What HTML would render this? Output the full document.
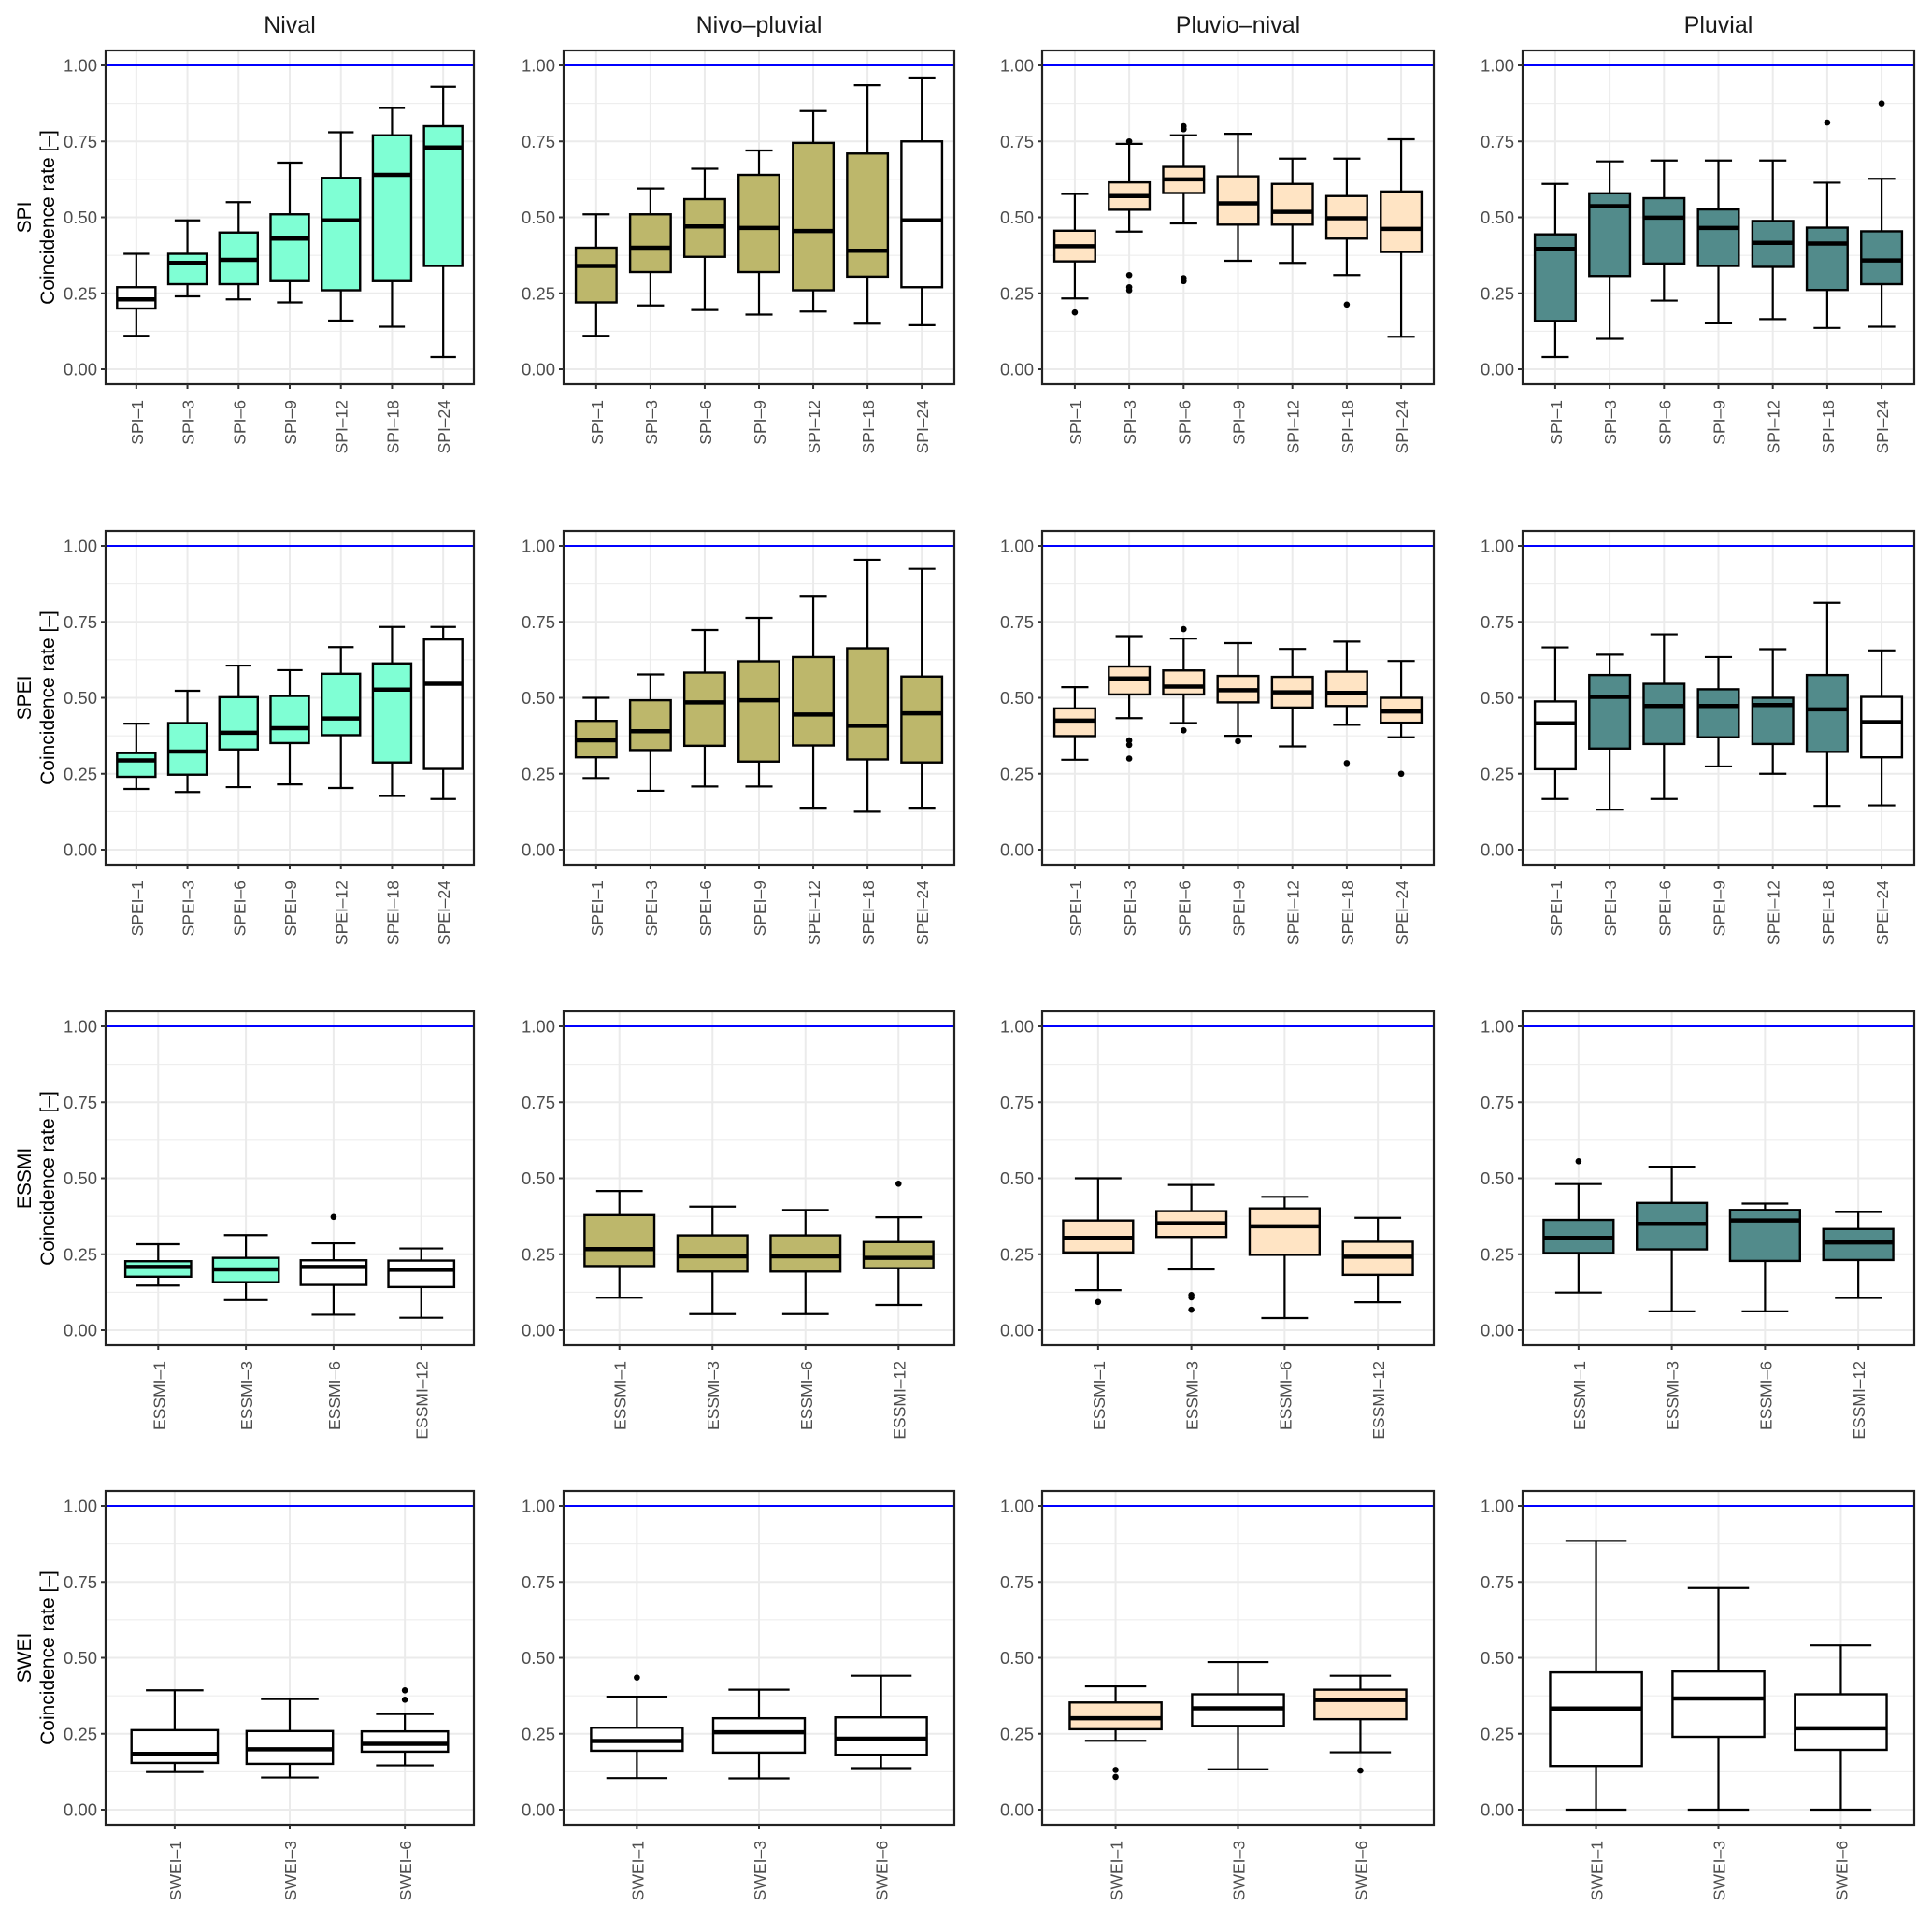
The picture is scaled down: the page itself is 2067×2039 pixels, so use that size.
<!DOCTYPE html>
<html><head><meta charset="utf-8"><style>
html,body{margin:0;padding:0;background:#fff;}
svg{display:block;font-family:"Liberation Sans",Arial,sans-serif;}
</style></head><body>
<svg id="chart" width="2067" height="2039" viewBox="0 0 2067 2039" xmlns="http://www.w3.org/2000/svg"></svg>
<script>
// ---- data ----
const regimes = ["Nival","Nivo\u2013pluvial","Pluvio\u2013nival","Pluvial"];
const indices = ["SPI","SPEI","ESSMI","SWEI"];
const catsSPI = ["SPI\u20131","SPI\u20133","SPI\u20136","SPI\u20139","SPI\u201312","SPI\u201318","SPI\u201324"];
const catsSPEI = ["SPEI\u20131","SPEI\u20133","SPEI\u20136","SPEI\u20139","SPEI\u201312","SPEI\u201318","SPEI\u201324"];
const catsESSMI = ["ESSMI\u20131","ESSMI\u20133","ESSMI\u20136","ESSMI\u201312"];
const catsSWEI = ["SWEI\u20131","SWEI\u20133","SWEI\u20136"];
const regimeFills = ["#7FFFD4","#BDB76B","#FFE4C4","#528B8B"];
const yTicks = [0,0.25,0.5,0.75,1];
const yTickLabels = ["0.00","0.25","0.50","0.75","1.00"];

// stats: [lower whisker, q1, median, q3, upper whisker]
const spiNival = [[.11,.20,.23,.27,.38],[.24,.28,.35,.38,.49],[.23,.28,.36,.45,.55],[.22,.29,.43,.51,.68],[.16,.26,.49,.63,.78],[.14,.29,.64,.77,.86],[.04,.34,.73,.80,.93]];
const spiNivo = [[.11,.22,.34,.40,.51],[.21,.32,.40,.51,.595],[.195,.37,.47,.56,.66],[.18,.32,.465,.64,.72],[.19,.26,.455,.745,.85],[.15,.305,.39,.71,.935],[.145,.27,.49,.75,.96]];
const spiPluvio = [[.233,.355,.405,.456,.577],[.453,.525,.57,.615,.742],[.48,.58,.625,.666,.77],[.357,.476,.546,.635,.775],[.35,.476,.518,.61,.693],[.31,.43,.497,.57,.693],[.107,.386,.462,.585,.757]];
const spiPluvial = [[.04,.159,.396,.444,.61],[.10,.307,.537,.579,.684],[.226,.348,.499,.563,.687],[.151,.34,.465,.526,.687],[.165,.337,.416,.488,.687],[.136,.261,.414,.466,.614],[.14,.28,.358,.454,.627]];
const speiNival = [[.20,.24,.294,.318,.415],[.19,.247,.323,.417,.523],[.206,.33,.385,.502,.606],[.215,.351,.40,.506,.591],[.203,.377,.432,.579,.667],[.177,.287,.527,.613,.733],[.167,.266,.546,.692,.733]];
const speiNivo = [[.236,.304,.36,.424,.50],[.194,.328,.39,.492,.577],[.208,.342,.485,.583,.723],[.208,.29,.492,.62,.763],[.138,.343,.445,.634,.833],[.125,.297,.408,.663,.954],[.138,.287,.449,.57,.924]];
const speiPluvio = [[.296,.374,.425,.465,.535],[.433,.511,.564,.603,.703],[.417,.511,.537,.59,.695],[.375,.485,.525,.572,.68],[.34,.468,.518,.569,.661],[.411,.473,.516,.586,.685],[.37,.418,.455,.50,.621]];
const speiPluvial = [[.167,.265,.416,.488,.666],[.132,.333,.503,.575,.642],[.167,.348,.473,.546,.709],[.274,.37,.473,.528,.634],[.25,.348,.476,.50,.66],[.144,.322,.462,.575,.813],[.146,.304,.42,.503,.656]];
const essmiNival = [[.147,.176,.208,.227,.283],[.099,.158,.20,.238,.313],[.051,.149,.208,.23,.286],[.041,.142,.199,.229,.269]];
const essmiNivo = [[.107,.211,.267,.379,.458],[.053,.193,.243,.312,.407],[.053,.193,.243,.312,.396],[.083,.204,.238,.29,.372]];
const essmiPluvio = [[.132,.256,.304,.361,.50],[.20,.307,.352,.392,.478],[.04,.248,.342,.401,.439],[.092,.182,.242,.291,.37]];
const essmiPluvial = [[.124,.254,.304,.363,.481],[.062,.266,.35,.419,.538],[.062,.228,.361,.396,.417],[.106,.231,.289,.333,.389]];
const sweiNival = [[.124,.154,.184,.262,.393],[.106,.151,.199,.259,.364],[.146,.191,.217,.258,.315]];
const sweiNivo = [[.104,.194,.226,.27,.372],[.103,.188,.255,.301,.395],[.137,.181,.234,.304,.441]];
const sweiPluvio = [[.227,.265,.301,.353,.406],[.133,.276,.334,.38,.486],[.189,.298,.361,.395,.441]];
const sweiPluvial = [[0,.144,.333,.452,.885],[0,.24,.366,.455,.73],[0,.197,.268,.38,.541]];

// outliers per box
const spiNivalOut = [[],[],[],[],[],[],[]];
const spiNivoOut = [[],[],[],[],[],[],[]];
const spiPluvioOut = [[.187],[.75,.31,.27,.26],[.80,.79,.30,.29],[],[],[.213],[]];
const spiPluvialOut = [[],[],[],[],[],[.812],[.875]];
const speiNivalOut = [[],[],[],[],[],[],[]];
const speiNivoOut = [[],[],[],[],[],[],[]];
const speiPluvioOut = [[],[.36,.345,.30],[.726,.393],[.357],[],[.285],[.25]];
const speiPluvialOut = [[],[],[],[],[],[],[]];
const essmiNivalOut = [[],[],[.373],[]];
const essmiNivoOut = [[],[],[],[.482]];
const essmiPluvioOut = [[.093],[.116,.108,.067],[],[]];
const essmiPluvialOut = [[.556],[],[],[]];
const sweiNivalOut = [[],[],[.393,.362]];
const sweiNivoOut = [[.435],[],[]];
const sweiPluvioOut = [[.131,.108],[],[.129]];
const sweiPluvialOut = [[],[],[]];

// 1 = white (unfilled) box, 0 = regime colour
const spiNivalWhite = [1,0,0,0,0,0,0];
const spiNivoWhite = [0,0,0,0,0,0,1];
const spiPluvioWhite = [0,0,0,0,0,0,0];
const spiPluvialWhite = [0,0,0,0,0,0,0];
const speiNivalWhite = [0,0,0,0,0,0,1];
const speiNivoWhite = [0,0,0,0,0,0,0];
const speiPluvioWhite = [0,0,0,0,0,0,0];
const speiPluvialWhite = [1,0,0,0,0,0,1];
const essmiNivalWhite = [0,0,1,1];
const essmiNivoWhite = [0,0,0,0];
const essmiPluvioWhite = [0,0,0,0];
const essmiPluvialWhite = [0,0,0,0];
const sweiNivalWhite = [1,1,1];
const sweiNivoWhite = [1,1,1];
const sweiPluvioWhite = [0,1,0];
const sweiPluvialWhite = [1,1,1];

const rowCats = [catsSPI, catsSPEI, catsESSMI, catsSWEI];
const panelStats = [[spiNival,spiNivo,spiPluvio,spiPluvial],[speiNival,speiNivo,speiPluvio,speiPluvial],[essmiNival,essmiNivo,essmiPluvio,essmiPluvial],[sweiNival,sweiNivo,sweiPluvio,sweiPluvial]];
const panelOut = [[spiNivalOut,spiNivoOut,spiPluvioOut,spiPluvialOut],[speiNivalOut,speiNivoOut,speiPluvioOut,speiPluvialOut],[essmiNivalOut,essmiNivoOut,essmiPluvioOut,essmiPluvialOut],[sweiNivalOut,sweiNivoOut,sweiPluvioOut,sweiPluvialOut]];
const panelWhite = [[spiNivalWhite,spiNivoWhite,spiPluvioWhite,spiPluvialWhite],[speiNivalWhite,speiNivoWhite,speiPluvioWhite,speiPluvialWhite],[essmiNivalWhite,essmiNivoWhite,essmiPluvioWhite,essmiPluvialWhite],[sweiNivalWhite,sweiNivoWhite,sweiPluvioWhite,sweiPluvialWhite]];

// ---- layout ----
const colL = [113,603,1115,1629], colR = [507,1021,1534,2048];
const rowT = [54,568,1082,1595];
const PH = 357;
const NS = "http://www.w3.org/2000/svg";
const svg = document.getElementById('chart');
function mk(tag, attrs, parent){const e=document.createElementNS(NS,tag);for(const k in attrs)e.setAttribute(k,attrs[k]);(parent||svg).appendChild(e);return e;}

for(let r=0;r<4;r++){
  for(let c=0;c<4;c++){
    const L=colL[c],R=colR[c],T=rowT[r],B=T+PH;
    const y0=T+341,y1=T+16;
    const yS=v=>y0-(y0-y1)*v;
    const cats=rowCats[r], n=cats.length;
    const unit=(R-L)/(n+0.2);
    const xS=i=>L+unit*(i+0.6);
    const g=mk('g',{});
    
    
    for(let k=0;k<4;k++){const v=0.125+0.25*k;mk('line',{x1:L,x2:R,y1:yS(v),y2:yS(v),stroke:'#EBEBEB','stroke-width':1},g);}
    yTicks.forEach(v=>mk('line',{x1:L,x2:R,y1:yS(v),y2:yS(v),stroke:'#EBEBEB','stroke-width':2},g));
    cats.forEach((_,i)=>mk('line',{x1:xS(i),x2:xS(i),y1:T,y2:B,stroke:'#EBEBEB','stroke-width':2},g));
    const hl=mk('line',{x1:L,x2:R,y1:yS(1),y2:yS(1),stroke:'#0000FF','stroke-width':2},g);
    
    
    const st=panelStats[r][c], outs=panelOut[r][c], wh=panelWhite[r][c];
    st.forEach((s,i)=>{
      const x=xS(i), bw=unit*0.75, cw=unit*0.5;
      const bg=mk('g',{},g);
      
      
      mk('line',{x1:x,x2:x,y1:yS(s[4]),y2:yS(s[3]),stroke:'#000','stroke-width':2.2},bg);
      mk('line',{x1:x,x2:x,y1:yS(s[1]),y2:yS(s[0]),stroke:'#000','stroke-width':2.2},bg);
      mk('line',{x1:x-cw/2,x2:x+cw/2,y1:yS(s[4]),y2:yS(s[4]),stroke:'#000','stroke-width':2.2},bg);
      mk('line',{x1:x-cw/2,x2:x+cw/2,y1:yS(s[0]),y2:yS(s[0]),stroke:'#000','stroke-width':2.2},bg);
      mk('rect',{x:x-bw/2,y:yS(s[3]),width:bw,height:yS(s[1])-yS(s[3]),fill:wh[i]?'#FFFFFF':regimeFills[c],stroke:'#000','stroke-width':2.4},bg);
      mk('line',{x1:x-bw/2,x2:x+bw/2,y1:yS(s[2]),y2:yS(s[2]),stroke:'#000','stroke-width':4.5},bg);
      outs[i].forEach(o=>{const d=mk('circle',{cx:x,cy:yS(o),r:3.3,fill:'#000'},bg);
        
        });
    });
    mk('rect',{x:L,y:T,width:R-L,height:PH,fill:'none',stroke:'#222','stroke-width':2.2},g);
    yTicks.forEach((v,k)=>{
      mk('line',{x1:L-5,x2:L,y1:yS(v),y2:yS(v),stroke:'#333','stroke-width':2},g);
      const t=mk('text',{x:L-9,y:yS(v)+6.5,'text-anchor':'end','font-size':18.5,fill:'#4D4D4D'},g);
      t.textContent=yTickLabels[k];
      
      
    });
    cats.forEach((lab,i)=>{
      const x=xS(i);
      mk('line',{x1:x,x2:x,y1:B,y2:B+5,stroke:'#333','stroke-width':2},g);
      const t=mk('text',{x:0,y:0,'text-anchor':'end','font-size':17.5,fill:'#4D4D4D',transform:`translate(${x+7},${B+17}) rotate(-90)`},g);
      t.textContent=lab;
      
      
    });
    if(r===0){
      const t=mk('text',{x:(L+R)/2,y:35,'text-anchor':'middle','font-size':25,fill:'#1a1a1a'});
      t.textContent=regimes[c];
      
      
    }
    if(c===0){
      const cy=(T+B)/2;
      const t1=mk('text',{x:0,y:0,'text-anchor':'middle','font-size':21,fill:'#000',transform:`translate(33,${cy}) rotate(-90)`});
      t1.textContent=indices[r];
      
      
      const t2=mk('text',{x:0,y:0,'text-anchor':'middle','font-size':21,fill:'#000',transform:`translate(58,${cy}) rotate(-90)`});
      t2.textContent='Coincidence rate [\u2013]';
      
      
    }
  }
}
</script>
</body></html>
